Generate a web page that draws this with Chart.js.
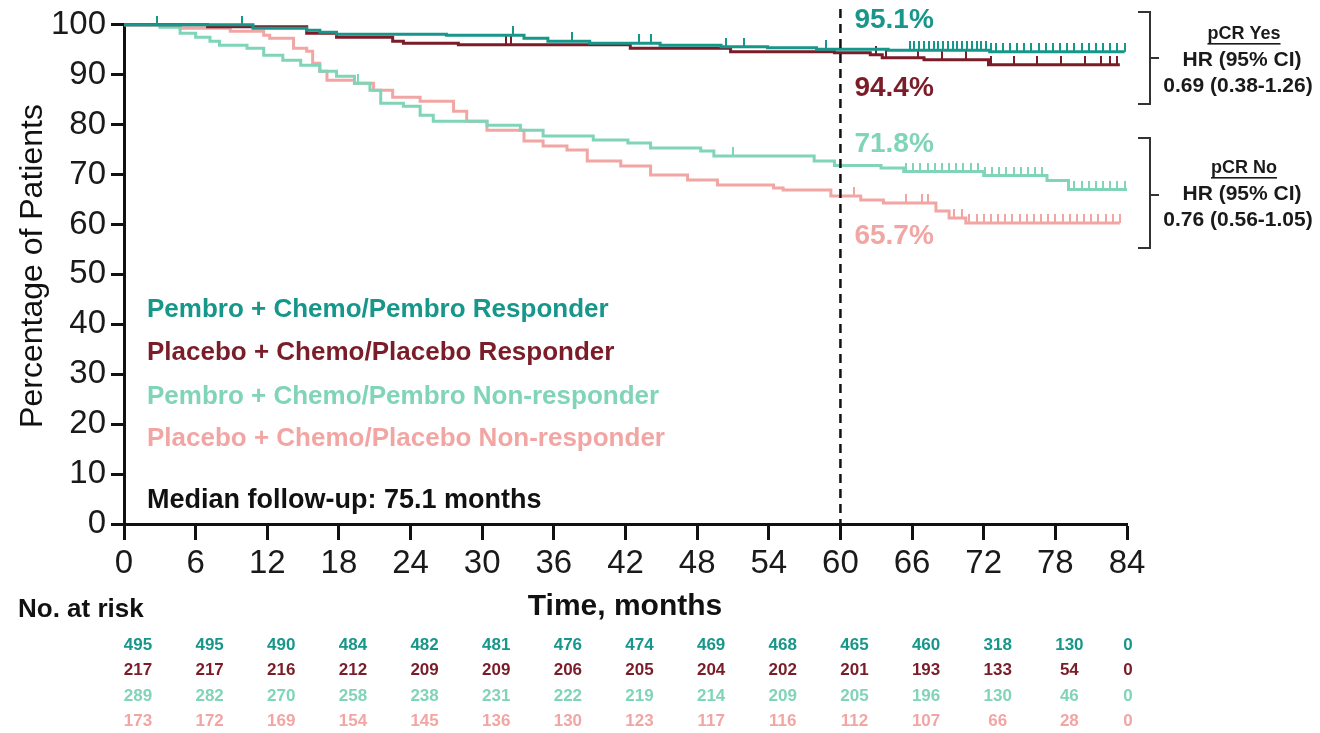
<!DOCTYPE html>
<html>
<head>
<meta charset="utf-8">
<script src="https://cdn.jsdelivr.net/npm/chart.js@4.4.1/dist/chart.umd.min.js"></script>
<style>
  html, body { margin: 0; padding: 0; background: #fff; }
  #wrap { width: 1320px; height: 733px; }
</style>
</head>
<body>
<div id="wrap"><canvas id="km" width="1320" height="733"></canvas></div>
<script>
// axis ticks
const monthTicks = [0, 6, 12, 18, 24, 30, 36, 42, 48, 54, 60, 66, 72, 78, 84];
const pctTicks = [0, 10, 20, 30, 40, 50, 60, 70, 80, 90, 100];

const seriesNames = [
  'Pembro + Chemo/Pembro Responder',
  'Placebo + Chemo/Placebo Responder',
  'Pembro + Chemo/Pembro Non-responder',
  'Placebo + Chemo/Placebo Non-responder'
];
const seriesColors = ['#17968a', '#7a1d29', '#80d4b7', '#f1a6a4'];

// KM steps: month of each drop and % event-free after it
const pembroRespTimes = [0, 10.8, 15.3, 16.4, 17.8, 27, 33.5, 35.5, 39, 44.9, 50, 53.9, 58, 64, 72.5, 83.8];
const pembroRespPct   = [100, 99.3, 98.9, 98.5, 98.1, 97.9, 97.3, 96.7, 96.3, 95.9, 95.6, 95.4, 95.1, 94.9, 94.6, 94.6];

const placeboRespTimes = [0, 7, 15.3, 17.8, 22.5, 23.4, 28, 42.4, 50.8, 59.5, 62.5, 63.5, 67, 72.4, 83.4];
const placeboRespPct   = [100, 99.6, 98.3, 97.5, 96.7, 96.3, 96.0, 95.3, 94.6, 94.4, 94.0, 93.4, 93.0, 92.0, 92.0];

const pembroNonTimes = [0, 3, 4.7, 6, 7.2, 8, 10.3, 11.7, 13.3, 14.8, 16.4, 17.8, 19.3, 20.6, 21.5, 23.4, 24.8, 25.9, 30.4, 33.2, 35.1, 39.3, 42.2, 44.1, 48.3, 49.4, 57.8, 59.5, 63.4, 65.3, 72, 77.3, 79.1, 84];
const pembroNonPct   = [100, 99.5, 98.3, 97.5, 96.7, 95.9, 95.3, 93.9, 92.9, 91.9, 90.7, 89.7, 88.3, 86.9, 84.3, 83.7, 81.9, 80.7, 79.9, 78.9, 77.7, 76.9, 76.3, 75.3, 74.7, 73.7, 72.7, 71.8, 71.3, 70.6, 69.8, 68.8, 67.0, 67.0];

const placeboNonTimes = [0, 4.7, 8.9, 11.7, 12.2, 14.2, 15.3, 15.8, 16.4, 17, 19.3, 20.9, 22.5, 24.8, 27.6, 28.7, 30.4, 33.5, 35.1, 37.1, 38.8, 41.6, 44.1, 47.2, 49.7, 54.4, 55.2, 59.2, 61.7, 63.6, 68, 69.1, 70.5, 83.4];
const placeboNonPct   = [100, 99.3, 98.7, 97.9, 97.3, 95.3, 94.7, 92.3, 90.7, 88.9, 88.3, 86.9, 85.5, 84.7, 82.7, 80.7, 78.9, 76.7, 75.7, 74.9, 72.7, 71.7, 69.9, 68.9, 67.9, 67.3, 66.9, 65.7, 64.9, 64.3, 62.7, 61.3, 60.3, 60.3];

// censoring marks (months)
const pembroRespCensor = [2.8, 9.9, 32.6, 37.5, 43.1, 44.1, 50.4, 51.9, 58.8, 65.8, 66.2, 66.6, 67, 67.4, 67.8, 68.2, 68.6, 69, 69.4, 69.8, 70.2, 70.6, 71, 71.4, 71.8, 72.2, 72.6, 73, 73.6, 74.2, 74.8, 75.4, 76, 76.6, 77.2, 77.8, 78.4, 79, 79.6, 80.2, 80.8, 81.4, 82, 82.6, 83.2, 83.8];
const placeboRespCensor = [32, 32.4, 63, 63.8, 66.5, 68.5, 70.5, 72.6, 74.5, 76.5, 78.5, 80.5, 81.8, 82.6, 83.2];
const pembroNonCensor = [19.6, 51, 65.5, 66.1, 66.7, 67.3, 67.9, 68.5, 69.1, 69.7, 70.3, 70.9, 71.5, 72.1, 72.7, 73.3, 73.9, 74.5, 75.1, 75.7, 76.3, 76.9, 79.6, 80.2, 80.8, 81.4, 82, 82.6, 83.2, 83.8];
const placeboNonCensor = [61.1, 65.5, 66.8, 67.3, 69.5, 70.2, 70.8, 71.4, 72, 72.6, 73.2, 73.8, 74.4, 75, 75.6, 76.2, 76.8, 77.4, 78, 78.6, 79.2, 79.8, 80.4, 81, 81.6, 82.2, 82.8, 83.4];

// number at risk, one value per month tick
const atRiskPembroResp  = [495, 495, 490, 484, 482, 481, 476, 474, 469, 468, 465, 460, 318, 130, 0];
const atRiskPlaceboResp = [217, 217, 216, 212, 209, 209, 206, 205, 204, 202, 201, 193, 133, 54, 0];
const atRiskPembroNon   = [289, 282, 270, 258, 238, 231, 222, 219, 214, 209, 205, 196, 130, 46, 0];
const atRiskPlaceboNon  = [173, 172, 169, 154, 145, 136, 130, 123, 117, 116, 112, 107, 66, 28, 0];

const landmarkMonth = 60;
const landmarkLabels = ['95.1%', '94.4%', '71.8%', '65.7%'];
const medianText = 'Median follow-up: 75.1 months';
const hrBlocks = [
  { title: 'pCR Yes', hr: 'HR (95% CI)', value: '0.69 (0.38-1.26)' },
  { title: 'pCR No', hr: 'HR (95% CI)', value: '0.76 (0.56-1.05)' }
];

const curves = [
  [pembroRespTimes, pembroRespPct, pembroRespCensor],
  [placeboRespTimes, placeboRespPct, placeboRespCensor],
  [pembroNonTimes, pembroNonPct, pembroNonCensor],
  [placeboNonTimes, placeboNonPct, placeboNonCensor]
];
const atRiskRows = [atRiskPembroResp, atRiskPlaceboResp, atRiskPembroNon, atRiskPlaceboNon];

function survivalAt(times, pct, t) {
  let v = pct[0];
  for (let i = 0; i < times.length; i++) {
    if (times[i] <= t) v = pct[i];
  }
  return v;
}

// small upward tick used as point style for censored patients
function censorMark(color) {
  const c = document.createElement('canvas');
  c.width = 2;
  c.height = 18;
  const g = c.getContext('2d');
  g.fillStyle = color;
  g.fillRect(0, 0, 2, 9);
  return c;
}

const FONT = '"Liberation Sans", Arial, Helvetica, sans-serif';
Chart.defaults.font.family = FONT;

const datasets = [];
curves.forEach(([times, pct, censor], i) => {
  datasets.push({
    label: seriesNames[i],
    data: times.map((t, k) => ({ x: t, y: pct[k] })),
    borderColor: seriesColors[i],
    borderWidth: 3,
    stepped: 'before',
    pointRadius: 0,
    fill: false,
    clip: false
  });
  datasets.push({
    label: seriesNames[i] + ' censored',
    data: censor.map(t => ({ x: t, y: survivalAt(times, pct, t) })),
    showLine: false,
    pointStyle: censorMark(seriesColors[i]),
    pointRadius: 5,
    borderColor: seriesColors[i],
    clip: false
  });
});

const overlay = {
  id: 'overlay',
  afterDatasetsDraw(chart) {
    const { ctx, chartArea, scales: { x } } = chart;
    const lx = x.getPixelForValue(landmarkMonth);
    ctx.save();
    // landmark line at 60 months
    ctx.strokeStyle = '#111';
    ctx.lineWidth = 2.5;
    ctx.setLineDash([9, 6]);
    ctx.beginPath();
    ctx.moveTo(lx, 9);
    ctx.lineTo(lx, chartArea.bottom);
    ctx.stroke();
    ctx.setLineDash([]);

    // landmark labels
    const labelY = [20, 88, 144, 236];
    ctx.font = 'bold 28px ' + FONT;
    ctx.textBaseline = 'middle';
    ctx.textAlign = 'left';
    landmarkLabels.forEach((t, i) => {
      ctx.fillStyle = seriesColors[i];
      ctx.fillText(t, lx + 14, labelY[i]);
    });

    // legend text
    const legY = [310, 353, 397, 439];
    ctx.font = 'bold 26px ' + FONT;
    seriesNames.forEach((t, i) => {
      ctx.fillStyle = seriesColors[i];
      ctx.fillText(t, 147, legY[i]);
    });
    ctx.fillStyle = '#111';
    ctx.font = 'bold 27px ' + FONT;
    ctx.fillText(medianText, 147, 501);

    // HR brackets
    const brackets = [[12, 104, 58, 34, 60, 86], [138, 248, 195, 168, 194, 220]];
    brackets.forEach(([top, bot, mid, t1, t2, t3], i) => {
      ctx.strokeStyle = '#333';
      ctx.lineWidth = 2;
      ctx.beginPath();
      ctx.moveTo(1138, top);
      ctx.lineTo(1150, top);
      ctx.lineTo(1150, bot);
      ctx.lineTo(1138, bot);
      ctx.moveTo(1150, mid);
      ctx.lineTo(1159, mid);
      ctx.stroke();
      const b = hrBlocks[i];
      ctx.fillStyle = '#1a1a1a';
      ctx.textAlign = 'center';
      ctx.font = 'bold 18px ' + FONT;
      ctx.fillText(b.title, 1244, t1);
      const w = ctx.measureText(b.title).width;
      ctx.fillRect(1244 - w / 2, t1 + 9, w, 1.6);
      ctx.font = 'bold 21px ' + FONT;
      ctx.fillText(b.hr, 1242, t2);
      ctx.fillText(b.value, 1238, t3);
    });

    // axis title, at-risk table
    ctx.fillStyle = '#111';
    ctx.font = 'bold 30px ' + FONT;
    ctx.fillText('Time, months', 625, 607);
    ctx.textAlign = 'left';
    ctx.font = 'bold 26px ' + FONT;
    ctx.fillText('No. at risk', 18, 610);

    ctx.textAlign = 'center';
    ctx.font = 'bold 17px ' + FONT;
    const rowY = [645, 670, 696, 721];
    atRiskRows.forEach((row, r) => {
      ctx.fillStyle = seriesColors[r];
      row.forEach((n, k) => {
        const px = Math.min(x.getPixelForValue(monthTicks[k]) + 14, chartArea.right + 1);
        ctx.fillText(String(n), px, rowY[r]);
      });
    });

    // y axis title
    ctx.save();
    ctx.translate(33, 266);
    ctx.rotate(-Math.PI / 2);
    ctx.fillStyle = '#111';
    ctx.font = '32px ' + FONT;
    ctx.fillText('Percentage of Patients', 0, 0);
    ctx.restore();
    ctx.restore();
  }
};

new Chart(document.getElementById('km'), {
  type: 'line',
  data: { datasets },
  options: {
    responsive: false,
    animation: false,
    layout: { padding: { left: 0, right: 193, top: 24, bottom: 0 } },
    plugins: { legend: { display: false }, tooltip: { enabled: false } },
    scales: {
      x: {
        type: 'linear',
        min: 0,
        max: 84,
        afterBuildTicks: s => { s.ticks = monthTicks.map(v => ({ value: v })); },
        afterFit: s => { s.height = 209; },
        ticks: { font: { size: 33 }, color: '#1a1a1a', padding: 4, maxRotation: 0, autoSkip: false },
        grid: { drawOnChartArea: false, tickLength: 16, tickWidth: 3, tickColor: '#111' },
        border: { display: true, color: '#111', width: 3 }
      },
      y: {
        type: 'linear',
        min: 0,
        max: 100,
        afterBuildTicks: s => { s.ticks = pctTicks.map(v => ({ value: v })); },
        afterFit: s => { s.width = 124; },
        ticks: { font: { size: 33 }, color: '#1a1a1a', padding: 5 },
        grid: { drawOnChartArea: false, tickLength: 13, tickWidth: 3, tickColor: '#111' },
        border: { display: true, color: '#111', width: 3 }
      }
    }
  },
  plugins: [overlay]
});
</script>
</body>
</html>
